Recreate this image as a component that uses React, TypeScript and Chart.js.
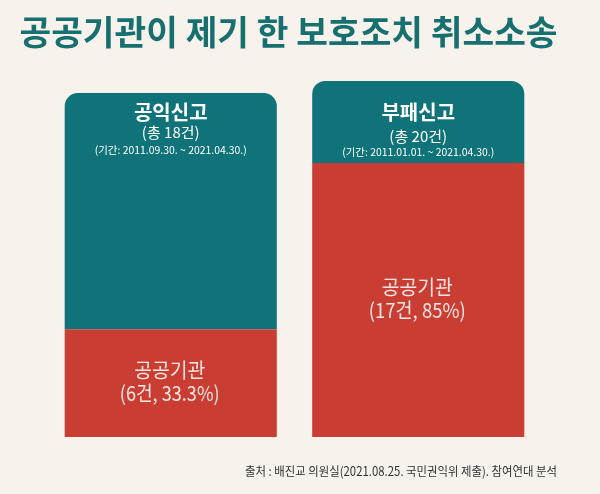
import React, { useEffect, useRef } from "react";
import { Chart, registerables } from "chart.js";

Chart.register(...registerables);

const titleText = "공공기관이 제기 한 보호조치 취소소송";
const categories = ["공익신고", "부패신고"];
const totals = [18, 20];
const periods = ["(기간: 2011.09.30. ~ 2021.04.30.)", "(기간: 2011.01.01. ~ 2021.04.30.)"];
const publicLabel = "공공기관";
const publicCounts = [6, 17];
const publicShares = ["33.3%", "85%"];
// bar lengths as drawn in the infographic (not proportional to counts)
const redLengths = [30.3, 77];
const tealLengths = [66.3, 23];
const sourceText = "출처 : 배진교 의원실(2021.08.25. 국민권익위 제출). 참여연대 분석";

const BG = "#f7f3ec";
const TEAL = "#0f7379";
const RED = "#c93d33";
const FONT = '"Noto Sans CJK KR", "Noto Sans", sans-serif';

const textPlugin = {
  id: "texts",
  beforeDraw(chart: any) {
    const ctx = chart.ctx;
    ctx.save();
    ctx.fillStyle = BG;
    ctx.fillRect(0, 0, chart.width, chart.height);
    ctx.restore();
  },
  afterDatasetsDraw(chart: any) {
    const ctx = chart.ctx;
    ctx.save();
    ctx.textAlign = "center";
    ctx.textBaseline = "middle";
    // title
    ctx.fillStyle = "#17706f";
    ctx.font = `bold 34.5px ${FONT}`;
    ctx.fillText(titleText, 288.5, 32, 538);

    const redMeta = chart.getDatasetMeta(0);
    const headerY = [[112, 112], [132, 136], [150, 152]];
    categories.forEach((cat, i) => {
      const bar = redMeta.data[i];
      const x = bar.x;
      ctx.fillStyle = "#ffffff";
      ctx.font = `bold 20px ${FONT}`;
      ctx.fillText(cat, x, headerY[0][i]);
      ctx.font = `15px ${FONT}`;
      ctx.fillText(`(총 ${totals[i]}건)`, x, headerY[1][i], 64);
      ctx.font = `10.5px ${FONT}`;
      ctx.fillText(periods[i], x, headerY[2][i], 152);
      // red segment label
      const mid = (bar.y + bar.base) / 2 - 2;
      ctx.fillStyle = "#f6e6e2";
      ctx.font = `20.5px ${FONT}`;
      ctx.fillText(publicLabel, x - 1, mid - 11, 71);
      ctx.fillText(`(${publicCounts[i]}건, ${publicShares[i]})`, x - 1, mid + 12, i === 0 ? 100 : 97);
    });

    // source
    ctx.fillStyle = "#333333";
    ctx.textAlign = "right";
    ctx.font = `12.5px ${FONT}`;
    ctx.fillText(sourceText, 557, 471, 312);
    ctx.restore();
  },
};

export default function App() {
  const ref = useRef<HTMLCanvasElement>(null);
  useEffect(() => {
    if (!ref.current) return;
    const chart = new Chart(ref.current, {
      type: "bar",
      data: {
        labels: categories,
        datasets: [
          {
            label: publicLabel,
            data: redLengths,
            backgroundColor: RED,
            borderWidth: 0,
            borderRadius: 0,
          },
          {
            label: "기타",
            data: tealLengths,
            backgroundColor: TEAL,
            borderWidth: 0,
            borderSkipped: false,
            borderRadius: { topLeft: 13, topRight: 13, bottomLeft: 0, bottomRight: 0 },
          },
        ],
      },
      options: {
        responsive: false,
        animation: false,
        events: [],
        layout: { padding: { top: 81, bottom: 57, left: 47, right: 58 } },
        datasets: { bar: { categoryPercentage: 1, barPercentage: 0.857 } },
        scales: {
          x: { display: false, stacked: true },
          y: { display: false, stacked: true, min: 0, max: 100 },
        },
        plugins: {
          legend: { display: false },
          tooltip: { enabled: false },
          title: { display: false },
        },
      },
      plugins: [textPlugin],
    });
    return () => chart.destroy();
  }, []);
  return (
    <div style={{ position: "absolute", left: 0, top: 0, width: 600, height: 494, background: BG }}>
      <canvas ref={ref} width={600} height={494} style={{ display: "block" }} />
    </div>
  );
}
